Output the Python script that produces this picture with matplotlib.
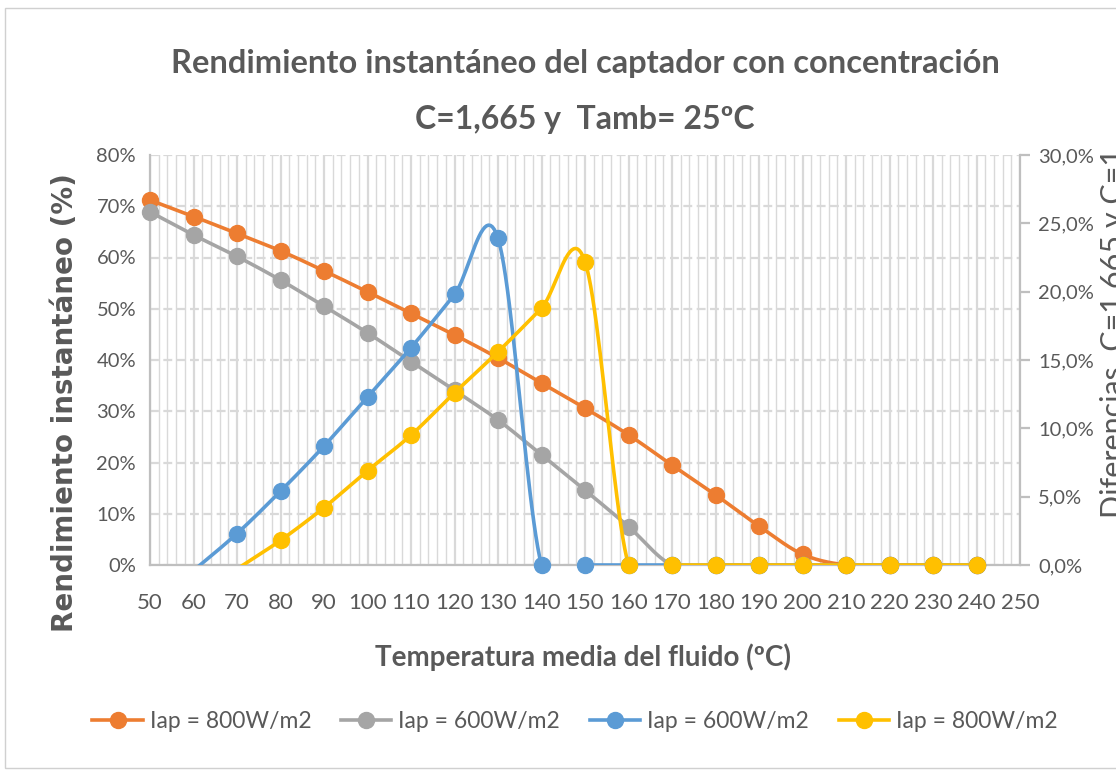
import numpy as np
import matplotlib.pyplot as plt
from matplotlib.ticker import MultipleLocator, FuncFormatter

temps = [50, 60, 70, 80, 90, 100, 110, 120, 130, 140, 150, 160, 170,
         180, 190, 200, 210, 220, 230, 240]

# rendimiento (%), left axis
rend_800 = [71.2, 68.0, 64.7, 61.3, 57.4, 53.3, 49.1, 44.9, 40.4, 35.5,
            30.6, 25.4, 19.5, 13.7, 7.6, 2.1, 0, 0, 0, 0]
rend_600 = [68.9, 64.4, 60.2, 55.6, 50.5, 45.3, 39.7, 34.1, 28.3, 21.5,
            14.6, 7.5, 0, 0, 0, 0, 0, 0, 0, 0]

# diferencias (%), right axis
dif_temps = temps[1:]
dif_600 = [-0.4, 2.3, 5.4, 8.7, 12.3, 15.9, 19.8, 23.9, 0, 0, 0, 0,
           0, 0, 0, 0, 0, 0, 0]
dif_800 = [-2.5, -0.3, 1.8, 4.2, 6.9, 9.5, 12.6, 15.6, 18.8, 22.2, 0, 0,
           0, 0, 0, 0, 0, 0, 0]

labels = ["Iap = 800W/m2", "Iap = 600W/m2", "Iap = 600W/m2", "Iap = 800W/m2"]
colors = ["#ED7D31", "#A5A5A5", "#5B9BD5", "#FFC000"]

TXT = "#595959"
GRID = "#D9D9D9"


def smooth(x, y, n=24):
    # excel-like smoothed line (catmull-rom as cubic bezier)
    p = np.column_stack([x, y]).astype(float)
    p = np.vstack([p[0], p, p[-1]])
    out = []
    for i in range(1, len(p) - 2):
        p0, p1, p2, p3 = p[i - 1], p[i], p[i + 1], p[i + 2]
        c1 = p1 + (p2 - p0) / 6
        c2 = p2 - (p3 - p1) / 6
        t = np.linspace(0, 1, n)[:, None]
        seg = ((1 - t) ** 3) * p1 + 3 * ((1 - t) ** 2) * t * c1 \
            + 3 * (1 - t) * t ** 2 * c2 + t ** 3 * p2
        out.append(seg if i == 1 else seg[1:])
    out = np.vstack(out)
    return out[:, 0], out[:, 1]


plt.rcParams['font.family'] = ['Lato', 'DejaVu Sans']

fig = plt.figure(figsize=(11.16, 7.7), dpi=100)
ax = fig.add_axes([150 / 1116, 1 - 565 / 770, 870 / 1116, 410 / 770])
ax2 = ax.twinx()

ax.set_xlim(50, 250)
ax.set_ylim(0, 80)
ax2.set_ylim(0, 30)

ax.xaxis.set_major_locator(MultipleLocator(10))
ax.xaxis.set_minor_locator(MultipleLocator(2))
ax.yaxis.set_major_locator(MultipleLocator(10))
ax2.yaxis.set_major_locator(MultipleLocator(5))
ax.yaxis.set_major_formatter(FuncFormatter(lambda v, p: f"{v:.0f}%"))
ax2.yaxis.set_major_formatter(
    FuncFormatter(lambda v, p: f"{v:.1f}%".replace(".", ",")))

ax.grid(which='major', axis='x', color=GRID, lw=1.6)
ax.grid(which='minor', axis='x', color=GRID, lw=1.0)
ax.grid(which='major', axis='y', color=GRID, lw=1.6, ls=(0, (4, 2)))
ax.set_axisbelow(True)

for s in ['top']:
    ax.spines[s].set_visible(False)
    ax2.spines[s].set_visible(False)
ax.spines['right'].set_visible(False)
ax2.spines['left'].set_visible(False)
ax2.spines['bottom'].set_visible(False)
for sp in [ax.spines['left'], ax.spines['bottom'], ax2.spines['right']]:
    sp.set_color("#BFBFBF")
    sp.set_linewidth(1.6)

ax.tick_params(axis='both', which='both', length=0, labelcolor=TXT)
ax.tick_params(axis='x', labelsize=16, pad=20)
ax.tick_params(axis='y', labelsize=14.5, pad=10)
ax2.tick_params(axis='y', length=7, width=1.6, color="#BFBFBF",
                labelsize=14.5, labelcolor=TXT, pad=6)

handles = []
for y, c, lab in [(rend_800, colors[0], labels[0]),
                  (rend_600, colors[1], labels[1])]:
    sx, sy = smooth(temps, y)
    ax.plot(sx, sy, color=c, lw=2.6, solid_capstyle='round', zorder=3)
    ax.plot(temps, y, 'o', color=c, ms=11.5, zorder=4, clip_on=False)
    h, = ax.plot([], [], '-o', color=c, lw=2.6, ms=11.5, label=lab)
    handles.append(h)

for y, c, lab in [(dif_600, colors[2], labels[2]),
                  (dif_800, colors[3], labels[3])]:
    sx, sy = smooth(dif_temps, y)
    ax2.plot(sx, sy, color=c, lw=2.6, solid_capstyle='round', zorder=3)
    mx = [t for t, v in zip(dif_temps, y) if v >= 0]
    my = [v for v in y if v >= 0]
    ax2.plot(mx, my, 'o', color=c, ms=11.5, zorder=4, clip_on=False)
    h, = ax2.plot([], [], '-o', color=c, lw=2.6, ms=11.5, label=lab)
    handles.append(h)

fig.text(585 / 1116, 1 - 64 / 770,
         "Rendimiento instantáneo del captador con concentración",
         ha='center', va='center', fontsize=23.5, fontweight='bold', color=TXT)
fig.text(585 / 1116, 1 - 119 / 770, "C=1,665 y  Tamb= 25ºC",
         ha='center', va='center', fontsize=23, fontweight='bold', color=TXT)

fig.text(65 / 1116, 1 - 403 / 770, "Rendimiento instantáneo (%)",
         rotation=90, ha='center', va='center', fontsize=20,
         fontweight='bold', color=TXT, family='DejaVu Sans')
fig.text(1100 / 1116, 1 - 333 / 770, "Diferencias  C=1,665 y C=1",
         rotation=90, ha='left', va='center', fontsize=22, color=TXT)
fig.text(583 / 1116, 1 - 657 / 770, "Temperatura media del fluido (ºC)",
         ha='center', va='center', fontsize=20, fontweight='bold', color=TXT)

fig.legend(handles=handles, loc='center', bbox_to_anchor=(575 / 1116, 1 - 722 / 770),
           ncol=4, frameon=False, fontsize=16.5, labelcolor=TXT,
           handlelength=2.2, handletextpad=0.3, columnspacing=1.3)

fig.patches.append(plt.Rectangle((5 / 1116, 0.003), 1.2, 1 - 8 / 770 - 0.003,
                                 transform=fig.transFigure, fill=False,
                                 edgecolor="#D0D0D0", lw=1))

fig.savefig("out.png", dpi=100)
